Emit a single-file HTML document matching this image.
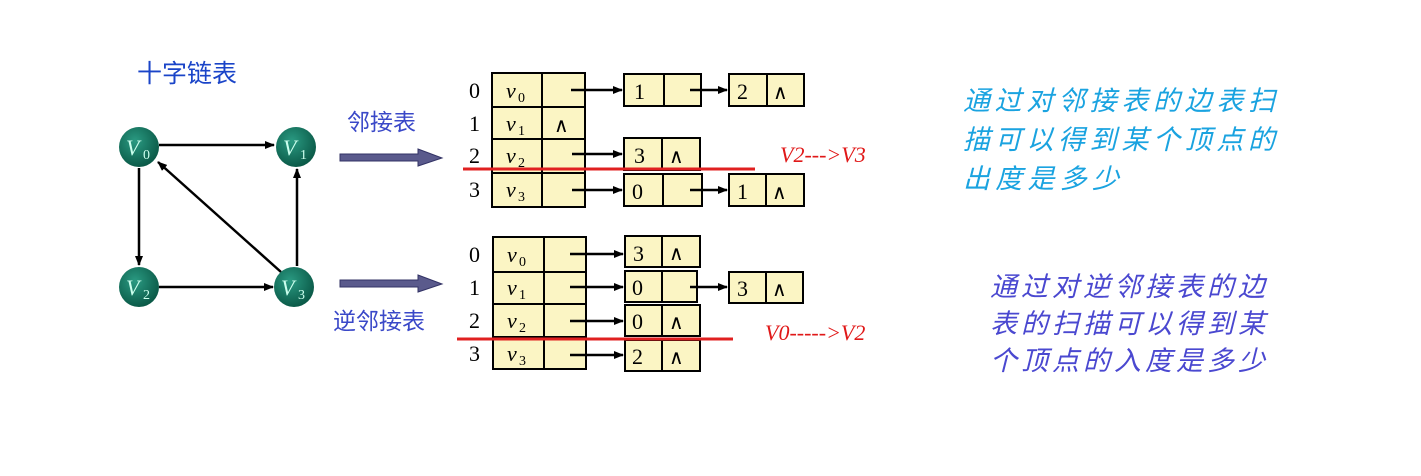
<!DOCTYPE html>
<html><head><meta charset="utf-8"><style>
html,body{margin:0;padding:0;background:#fff;}
svg{display:block;}
.cj{font-family:"Liberation Sans","Noto Sans CJK SC",sans-serif;}
.sr{font-family:"Liberation Serif",serif;}
</style></head><body>
<svg width="1421" height="476" viewBox="0 0 1421 476" xmlns="http://www.w3.org/2000/svg">
<defs>
<marker id="ah" markerWidth="10" markerHeight="8" refX="9" refY="4" orient="auto" markerUnits="userSpaceOnUse"><path d="M0,0 L10,4 L0,8 z" fill="#000"/></marker>
<radialGradient id="g" cx="40%" cy="35%" r="65%"><stop offset="0" stop-color="#2a9a82"/><stop offset="1" stop-color="#0b5a48"/></radialGradient>
</defs>
<text x="137" y="82" class="cj" font-size="25" fill="#1a44c8">十字链表</text>
<!-- graph edges -->
<g stroke="#000" stroke-width="2.5" fill="none" marker-end="url(#ah)">
<line x1="159" y1="145" x2="274" y2="145"/>
<line x1="139" y1="168" x2="139" y2="265"/>
<line x1="159" y1="287" x2="273" y2="287"/>
<line x1="297" y1="266" x2="297" y2="169"/>
<line x1="281" y1="272" x2="158" y2="162"/>
</g>
<g class="sr" font-style="italic" font-size="22" fill="#cfe">
<circle cx="139" cy="147" r="20" fill="url(#g)"/><text x="126" y="155">V</text><text x="143" y="159" font-size="14" font-style="normal">0</text>
<circle cx="296" cy="147" r="20" fill="url(#g)"/><text x="283" y="155">V</text><text x="300" y="159" font-size="14" font-style="normal">1</text>
<circle cx="139" cy="287" r="20" fill="url(#g)"/><text x="126" y="295">V</text><text x="143" y="299" font-size="14" font-style="normal">2</text>
<circle cx="294" cy="287" r="20" fill="url(#g)"/><text x="281" y="295">V</text><text x="298" y="299" font-size="14" font-style="normal">3</text>
</g>
<text x="347" y="130" class="cj" font-size="23" fill="#3a48c8">邻接表</text>
<text x="333" y="329" class="cj" font-size="23" fill="#3a48c8">逆邻接表</text>
<path d="M340,154 H418 V149 L442,158 L418,166 V161 H340 z" fill="#5a5a8c" stroke="#333366"/>
<path d="M340,280 H418 V275 L442,284 L418,292 V287 H340 z" fill="#5a5a8c" stroke="#333366"/>

<g stroke="#000" stroke-width="2" fill="#fbf5c4">
<!-- top table -->
<rect x="492" y="73" width="93" height="134"/>
<line x1="492" y1="107" x2="585" y2="107"/><line x1="492" y1="139" x2="585" y2="139"/><line x1="492" y1="173" x2="585" y2="173"/>
<line x1="542" y1="73" x2="542" y2="207"/>
<rect x="624" y="74" width="77" height="32"/><line x1="664" y1="74" x2="664" y2="106"/>
<rect x="729" y="74" width="75" height="32"/><line x1="767" y1="74" x2="767" y2="106"/>
<rect x="624" y="138" width="76" height="32"/><line x1="662" y1="138" x2="662" y2="170"/>
<rect x="624" y="174" width="78" height="32"/><line x1="663" y1="174" x2="663" y2="206"/>
<rect x="729" y="174" width="75" height="32"/><line x1="766" y1="174" x2="766" y2="206"/>
<!-- bottom table -->
<rect x="493" y="237" width="93" height="132"/>
<line x1="493" y1="272" x2="586" y2="272"/><line x1="493" y1="304" x2="586" y2="304"/><line x1="493" y1="337" x2="586" y2="337"/>
<line x1="544" y1="237" x2="544" y2="369"/>
<rect x="625" y="236" width="75" height="31"/><line x1="662" y1="236" x2="662" y2="267"/>
<rect x="625" y="271" width="72" height="31"/><line x1="662" y1="271" x2="662" y2="302"/>
<rect x="729" y="272" width="74" height="31"/><line x1="766" y1="272" x2="766" y2="303"/>
<rect x="625" y="305" width="75" height="31"/><line x1="662" y1="305" x2="662" y2="336"/>
<rect x="625" y="340" width="75" height="31"/><line x1="662" y1="340" x2="662" y2="371"/>
</g>
<g stroke="#000" stroke-width="2.5" marker-end="url(#ah)">
<line x1="571" y1="90" x2="622" y2="90"/><line x1="690" y1="90" x2="727" y2="90"/>
<line x1="572" y1="154" x2="622" y2="154"/>
<line x1="572" y1="190" x2="622" y2="190"/><line x1="690" y1="190" x2="727" y2="190"/>
<line x1="570" y1="254" x2="623" y2="254"/>
<line x1="570" y1="287" x2="623" y2="287"/><line x1="690" y1="287" x2="727" y2="287"/>
<line x1="570" y1="321" x2="623" y2="321"/>
<line x1="570" y1="355" x2="623" y2="355"/>
</g>
<g class="sr" font-size="22" fill="#000">
<text x="469" y="98">0</text><text x="469" y="131">1</text><text x="469" y="163">2</text><text x="469" y="197">3</text>
<text x="469" y="262">0</text><text x="469" y="295">1</text><text x="469" y="328">2</text><text x="469" y="361">3</text>
<g font-style="italic"><text x="506" y="98">v</text><text x="506" y="131">v</text><text x="506" y="163">v</text><text x="506" y="197">v</text>
<text x="507" y="262">v</text><text x="507" y="295">v</text><text x="507" y="328">v</text><text x="507" y="361">v</text></g>
<g font-size="14"><text x="518" y="102">0</text><text x="518" y="135">1</text><text x="518" y="167">2</text><text x="518" y="201">3</text>
<text x="519" y="266">0</text><text x="519" y="299">1</text><text x="519" y="332">2</text><text x="519" y="365">3</text></g>
<text x="634" y="99">1</text><text x="737" y="99">2</text><text x="634" y="163">3</text><text x="632" y="199">0</text><text x="737" y="199">1</text>
<text x="633" y="261">3</text><text x="632" y="295">0</text><text x="737" y="296">3</text><text x="632" y="329">0</text><text x="632" y="364">2</text>
<g font-size="20"><text x="773" y="99">∧</text><text x="554" y="132">∧</text><text x="669" y="163">∧</text><text x="772" y="199">∧</text>
<text x="669" y="260">∧</text><text x="772" y="296">∧</text><text x="669" y="329">∧</text><text x="669" y="364">∧</text></g>
</g>
<line x1="463" y1="169" x2="755" y2="169" stroke="#e02020" stroke-width="3"/>
<line x1="457" y1="339" x2="733" y2="339" stroke="#e02020" stroke-width="3"/>
<text x="780" y="162" class="sr" font-style="italic" font-size="22" fill="#e01818">V2---&gt;V3</text>
<text x="765" y="340" class="sr" font-style="italic" font-size="22" fill="#e01818">V0-----&gt;V2</text>
<g class="cj" font-style="italic" font-size="27" fill="#1aa3e0">
<text x="963" y="110" textLength="312">通过对邻接表的边表扫</text>
<text x="963" y="149" textLength="312">描可以得到某个顶点的</text>
<text x="963" y="188" textLength="156">出度是多少</text>
</g>
<g class="cj" font-style="italic" font-size="27" fill="#4a48d0">
<text x="990" y="296" textLength="275">通过对逆邻接表的边</text>
<text x="990" y="333" textLength="275">表的扫描可以得到某</text>
<text x="990" y="370" textLength="275">个顶点的入度是多少</text>
</g>
</svg>
</body></html>
